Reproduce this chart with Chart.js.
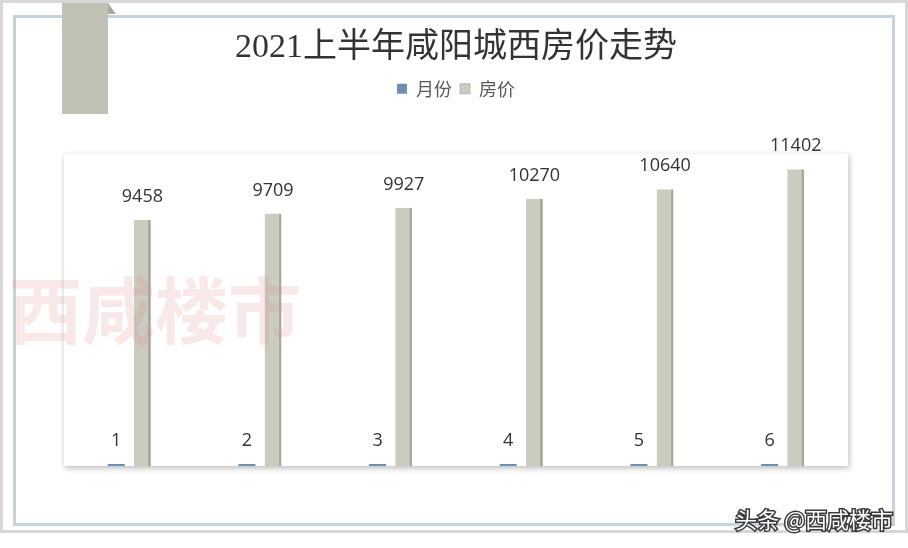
<!DOCTYPE html>
<html>
<head>
<meta charset="utf-8">
<script src="https://cdn.jsdelivr.net/npm/chart.js@4.4.1/dist/chart.umd.min.js"></script>
<style>
  html, body { margin: 0; padding: 0; background: #fff; }
  #c { display: block; }
</style>
</head>
<body>
<canvas id="c" width="908" height="548"></canvas>
<script>
// data
const categories = ['1', '2', '3', '4', '5', '6'];
const monthValues = [1, 2, 3, 4, 5, 6];
const priceValues = [9458, 9709, 9927, 10270, 10640, 11402];
const seriesNames = ['月份', '房价'];
const titleText = '2021上半年咸阳城西房价走势';
const watermarkText = '西咸楼市';
const sourceText = '头条 @西咸楼市';

const cjkSans = '"Noto Sans CJK SC", "Noto Sans", sans-serif';

// page decoration: frame, tag, white panel with shadow
const backdrop = {
  id: 'backdrop',
  beforeDraw(chart) {
    const ctx = chart.ctx;
    const a = chart.chartArea;
    ctx.save();
    ctx.fillStyle = '#fff';
    ctx.fillRect(0, 0, chart.width, chart.height);
    // outer grey edge
    ctx.strokeStyle = '#d8d6d6';
    ctx.lineWidth = 3;
    ctx.strokeRect(1.5, 1.5, 905, 530);
    // inner blue-grey frame
    ctx.strokeStyle = '#c6d3dc';
    ctx.lineWidth = 3;
    ctx.strokeRect(14.5, 16.5, 879, 508);
    // tag
    ctx.fillStyle = '#c1c1b5';
    ctx.fillRect(62, 3, 46, 111);
    ctx.fillStyle = '#a9a99c';
    ctx.beginPath();
    ctx.moveTo(108, 3);
    ctx.lineTo(116, 14);
    ctx.lineTo(108, 14);
    ctx.closePath();
    ctx.fill();
    // panel
    ctx.shadowColor = 'rgba(0,0,0,0.28)';
    ctx.shadowBlur = 6;
    ctx.shadowOffsetX = 1;
    ctx.shadowOffsetY = 2;
    ctx.fillStyle = '#fff';
    ctx.fillRect(a.left, a.top, a.right - a.left, a.bottom - a.top);
    ctx.restore();
  },
  afterDraw(chart) {
    const ctx = chart.ctx;
    ctx.save();
    // watermark
    ctx.font = 'bold 73px ' + cjkSans;
    ctx.fillStyle = 'rgba(225,140,140,0.2)';
    ctx.textBaseline = 'middle';
    ctx.textAlign = 'left';
    ctx.fillText(watermarkText, 9, 310);
    // source text
    ctx.font = '22px ' + cjkSans;
    ctx.textAlign = 'right';
    ctx.lineWidth = 3;
    ctx.strokeStyle = '#3a3a3a';
    ctx.strokeText(sourceText, 893, 520);
    ctx.fillStyle = '#fff';
    ctx.fillText(sourceText, 893, 520);
    ctx.restore();
  }
};

// value labels above each bar
const valueLabels = {
  id: 'valueLabels',
  afterDatasetsDraw(chart) {
    const ctx = chart.ctx;
    ctx.save();
    ctx.font = '18px "Open Sans", "Noto Sans", sans-serif';
    ctx.fillStyle = '#333';
    ctx.textAlign = 'center';
    ctx.textBaseline = 'middle';
    chart.data.datasets.forEach((ds, i) => {
      chart.getDatasetMeta(i).data.forEach((bar, j) => {
        ctx.fillText(String(ds.data[j]), bar.x, bar.y - 23);
      });
    });
    ctx.restore();
  }
};

// extra room below the legend
const legendGap = {
  id: 'legendGap',
  beforeInit(chart) {
    const fit = chart.legend.fit;
    chart.legend.fit = function () {
      fit.bind(chart.legend)();
      this.height += 46;
    };
  }
};

new Chart(document.getElementById('c'), {
  type: 'bar',
  data: {
    labels: categories,
    datasets: [
      {
        label: seriesNames[0],
        data: monthValues,
        backgroundColor: '#6f8fae',
        minBarLength: 2,
        categoryPercentage: 0.4,
        barPercentage: 0.65
      },
      {
        label: seriesNames[1],
        data: priceValues,
        backgroundColor: '#cbcbbf',
        borderColor: '#a9a99b',
        borderWidth: { top: 0, left: 0, bottom: 0, right: 3 },
        borderSkipped: false,
        categoryPercentage: 0.4,
        barPercentage: 0.65
      }
    ]
  },
  options: {
    responsive: false,
    animation: false,
    layout: { padding: { left: 64, right: 60, top: 0, bottom: 82 } },
    scales: {
      x: { display: false },
      y: { display: false, min: 0, max: 12000 }
    },
    plugins: {
      title: {
        display: true,
        text: titleText,
        color: '#333',
        font: { family: '"Liberation Serif", "Noto Sans CJK SC", serif', size: 34, weight: 'normal' },
        padding: { top: 28, bottom: 3 }
      },
      legend: {
        display: true,
        labels: {
          color: '#595959',
          boxWidth: 10,
          boxHeight: 10,
          padding: 8,
          font: { family: cjkSans, size: 18 }
        }
      },
      tooltip: { enabled: false }
    }
  },
  plugins: [backdrop, valueLabels, legendGap]
});
</script>
</body>
</html>
